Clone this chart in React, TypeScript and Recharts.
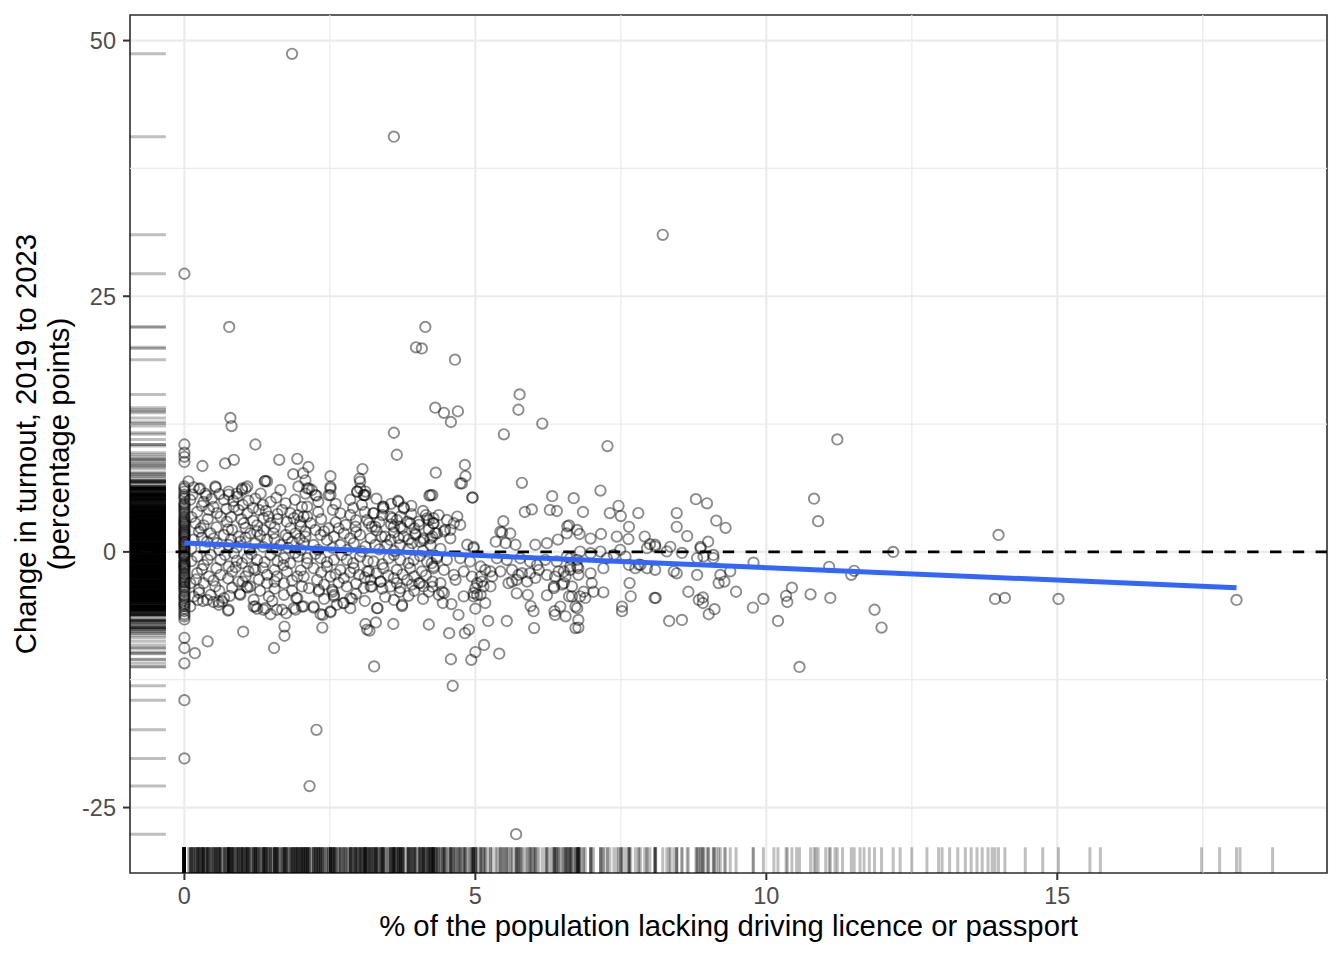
import React from 'react';
import { ScatterChart, Scatter, XAxis, YAxis, CartesianGrid, ReferenceArea, Label } from 'recharts';

// ---------- axes ----------
const X_DOMAIN: [number, number] = [-0.935, 19.635];
const Y_DOMAIN: [number, number] = [-31.4, 52.5];
const xTicks = [0, 5, 10, 15];
const yTicks = [-25, 0, 25, 50];
const xMinor = [2.5, 7.5, 12.5, 17.5];
const yMinor = [-12.5, 12.5, 37.5];

const xTitle = '% of the population lacking driving licence or passport';
const yTitle1 = 'Change in turnout, 2019 to 2023';
const yTitle2 = '(percentage points)';

// ---------- data ----------
// areas with 0% lacking ID (x = 0)
const zeroColumnY = [27.2, 10.5, 9.7, 9.3, 8.8, 6.4, 6.2, 5.9, 5.6, 5.2, 4.8, 4.5, 4.1, 3.9, 3.45, 3.1, 2.8, 2.5, 2.15, 1.9,
  1.66, 1.4, 1.0, 0.8, 0.5, 0.2, -0.29, -0.5, -0.94, -1.2, -1.43, -1.7, -2.08, -2.4, -2.73, -3.0, -3.38, -3.7, -4.2, -4.5,
  -5.0, -5.3, -5.8, -6.1, -6.6, -8.4, -9.4, -10.9, -14.5, -20.2,
  5.4, 4.65, 4.3, 3.7, 3.3, 2.95, 2.65, 2.3, 2.0, 1.75, 1.5, 1.2, 0.95, 0.65, 0.35, 0.05, -0.15, -0.4, -0.7, -1.05, -1.3,
  -1.55, -1.85, -2.2, -2.55, -2.9, -3.2, -3.5, -3.9, -4.35, -4.75, -5.15, -5.55, -6.3];

const outliers: [number, number][] = [
  [1.85, 48.7], [3.6, 40.6], [8.22, 31.0], [0.77, 22.0], [4.14, 22.0], [3.98, 20.0], [4.08, 19.9], [4.65, 18.8],
  [5.76, 15.4], [5.74, 13.9], [4.31, 14.1], [4.46, 13.6], [4.70, 13.75], [4.58, 12.7], [6.15, 12.55], [0.79, 13.1],
  [0.81, 12.3], [3.60, 11.65], [5.49, 11.5], [11.22, 11.0], [7.27, 10.35], [1.22, 10.5], [3.65, 9.5], [2.27, -17.4],
  [2.15, -22.9], [5.7, -27.6], [4.61, -13.1], [3.26, -11.2], [10.57, -11.25], [10.82, 5.2], [10.89, 3.0], [12.18, 0.0],
  [11.86, -5.66], [11.98, -7.4], [13.99, 1.66], [13.93, -4.6], [14.1, -4.5], [15.02, -4.6], [18.08, -4.7], [11.08, -1.46],
  [11.46, -2.24], [11.51, -1.85], [11.1, -4.5], [10.2, -6.75], [10.34, -4.3], [10.36, -4.9], [10.44, -3.5], [10.76, -4.15],
];

const upperLeft: [number, number][] = [
  [0.31, 8.4], [0.70, 8.65], [0.85, 9.0], [1.63, 9.0], [1.94, 9.1], [2.13, 8.3], [1.87, 7.6], [2.04, 7.7], [2.51, 7.4],
  [3.06, 8.1], [3.01, 7.15], [1.38, 6.9], [1.39, 6.95], [0.07, 6.9], [0.16, 6.3], [0.25, 6.15], [0.36, 5.7], [0.54, 6.3],
  [1.05, 6.2], [0.99, 6.05], [0.90, 5.7], [0.76, 5.6], [2.08, 7.0], [2.14, 6.2], [2.19, 6.05], [2.27, 5.5], [2.51, 6.2],
  [2.48, 5.55], [2.97, 5.9], [3.02, 6.2], [3.09, 5.55],
];

const upperMid: [number, number][] = [
  [4.32, 7.75], [4.82, 8.5], [4.83, 7.4], [4.74, 6.7], [4.95, 5.3], [4.21, 5.5], [5.80, 6.75], [6.32, 5.45], [6.69, 5.25],
  [5.85, 3.9], [5.97, 4.15], [6.28, 4.1], [6.40, 4.0], [5.48, 3.0], [5.46, 1.9], [5.60, 1.8], [5.35, 1.0], [5.52, 0.85],
  [5.69, 0.7], [6.03, 0.7], [6.23, 0.85], [6.42, 1.2], [6.58, 2.5], [6.61, 2.6], [3.11, 5.9], [3.11, 5.55], [3.41, 4.4],
  [3.42, 4.25], [3.25, 3.8], [3.67, 5.0], [3.77, 4.35], [3.57, 3.3], [3.71, 3.45], [3.83, 2.95], [3.60, 2.45], [3.74, 2.3],
  [4.03, 2.65], [4.20, 3.1], [4.28, 3.3], [4.37, 3.6], [4.69, 3.45], [4.74, 2.65], [4.63, 2.8], [4.57, 2.15], [4.46, 2.0],
  [3.17, 2.8], [3.28, 2.45], [3.45, 1.5], [3.68, 1.35], [3.97, 1.8], [4.11, 1.15], [4.26, 1.5], [4.86, 0.7], [4.97, 0.5],
];

const lowerLeft: [number, number][] = [
  [0.18, -9.9], [0.40, -8.75], [1.01, -7.8], [1.54, -9.4], [1.72, -7.3], [1.72, -8.2], [2.37, -7.4], [2.34, -6.1],
  [2.38, -6.15], [2.51, -5.9], [3.11, -7.05], [3.14, -7.6], [0.25, -4.0], [0.32, -4.8], [0.23, -4.7], [0.39, -4.7],
  [0.50, -4.9], [0.59, -4.9], [0.65, -4.85], [0.75, -5.75], [0.78, -4.3], [0.95, -4.1], [1.07, -3.4], [1.09, -3.5],
  [1.19, -5.35], [1.25, -5.55], [1.39, -5.5], [1.48, -6.1], [1.51, -4.8], [1.68, -5.65], [1.75, -6.0], [1.91, -5.65],
  [1.92, -4.5], [2.02, -5.35], [2.22, -5.45], [2.31, -3.7], [2.55, -3.9], [2.57, -4.2], [2.73, -5.0], [2.85, -5.5],
  [2.88, -4.6],
];

const lowerMid: [number, number][] = [
  [4.58, -10.5], [4.93, -10.55], [5.0, -9.8], [5.15, -9.1], [5.41, -9.95], [3.32, -5.5], [3.29, -6.9], [3.18, -7.7],
  [3.59, -7.05], [3.74, -5.3], [4.20, -7.1], [4.55, -7.95], [4.82, -7.95], [4.89, -7.6], [4.71, -6.15], [5.0, -5.55],
  [4.44, -5.0], [4.59, -5.1], [5.22, -6.75], [5.54, -6.75], [6.01, -7.45], [5.95, -5.3], [6.0, -5.8], [6.36, -5.8],
  [6.37, -6.15], [6.55, -6.3], [6.46, -5.35], [6.72, -7.45], [6.23, -4.25], [6.61, -4.35], [6.49, -3.2], [6.35, -3.55],
  [5.90, -4.2], [5.71, -4.05], [5.03, -4.2], [5.17, -5.0], [4.97, -4.35], [4.43, -3.9], [4.26, -3.4], [4.05, -3.05],
  [3.91, -3.2], [3.71, -3.55], [3.65, -3.05], [3.37, -2.9], [3.20, -3.4], [3.17, -1.9], [4.80, -4.35], [5.0, -3.55],
  [5.11, -2.9], [5.29, -2.4], [5.63, -2.9], [5.74, -2.25], [6.03, -2.55], [6.23, -2.25], [6.43, -1.9], [6.55, -2.4],
];

const upperRight: [number, number][] = [
  [7.15, 6.0], [6.85, 3.9], [7.46, 4.5], [7.31, 3.8], [7.50, 3.5], [7.80, 3.8], [7.64, 2.45], [7.91, 1.5], [7.16, 1.75],
  [6.98, 1.3], [6.79, 1.75], [7.43, 1.5], [7.63, 1.25], [8.0, 0.75], [8.09, 0.7], [8.35, 0.5], [8.46, 3.8], [8.46, 2.45],
  [8.64, 1.55], [8.79, 5.15], [8.98, 4.75], [9.14, 3.05], [9.30, 2.35], [9.0, 1.0], [8.87, 0.5],
];

const lowerRight: [number, number][] = [
  [9.77, -5.45], [9.95, -4.6], [9.48, -3.9], [9.78, -1.05], [9.01, -6.1], [9.11, -5.6], [8.91, -5.0], [8.84, -4.7],
  [8.91, -4.45], [8.66, -3.9], [8.33, -6.75], [8.55, -6.65], [8.08, -4.5], [8.10, -4.5], [7.65, -3.05], [7.67, -4.35],
  [7.52, -5.35], [7.52, -5.8], [9.18, -3.05], [9.28, -2.9], [9.21, -2.25], [9.38, -1.9], [6.63, -1.75], [6.77, -1.6],
  [6.98, -2.1], [7.0, -3.05], [7.03, -3.9], [6.86, -3.9], [6.72, -5.35], [6.77, -6.65], [6.77, -7.4], [6.89, -4.5],
  [7.20, -3.95], [6.66, -4.35], [6.80, -4.35], [7.95, -1.6], [8.09, -1.75], [7.81, -1.25], [8.41, -1.9], [8.46, -2.1],
  [8.81, -2.25], [8.81, -0.6], [8.92, -0.45], [9.09, -0.3], [9.09, -0.6], [8.29, 0.05], [8.55, -0.1], [8.87, 0.35],
  [6.80, 0.03], [6.98, -0.13], [7.15, 0.03], [7.26, -0.62], [7.38, -0.29], [7.49, 0.2], [7.58, -0.46], [7.64, -1.27],
  [7.75, -1.59], [7.84, -1.27], [7.95, 0.36], [8.09, 0.52], [6.75, -1.43], [7.2, -1.59], [6.63, -0.62],
];

const denseLeft: [number, number][] = [
  [0.27, 6.2], [0.53, 6.4], [0.76, 5.9], [0.99, 6.2], [1.08, 6.4], [1.31, 5.7], [1.42, 6.9], [1.65, 6.05], [1.96, 6.4],
  [2.08, 5.7], [0.10, 5.1], [0.33, 4.9], [0.47, 5.2], [0.68, 5.1], [0.91, 5.4], [1.22, 5.2], [1.48, 4.9], [1.74, 4.75],
  [0.22, 3.9], [0.42, 4.1], [0.56, 3.8], [0.62, 3.45], [0.85, 4.4], [0.93, 4.1], [1.08, 3.8], [1.28, 4.1], [1.45, 3.45],
  [1.68, 4.1], [1.82, 3.8], [2.02, 4.4], [2.11, 3.45], [0.19, 2.8], [0.33, 2.6], [0.73, 2.95], [1.02, 2.8], [1.25, 2.6],
  [1.48, 2.8], [1.76, 2.95], [1.99, 2.95], [0.25, 1.98], [0.45, 1.82], [0.68, 1.66], [0.82, 2.15], [0.93, 1.5],
  [1.13, 1.82], [1.36, 2.15], [1.53, 1.82], [1.74, 1.66], [1.91, 1.82], [2.08, 1.98], [0.16, 1.2], [0.39, 1.0],
  [0.56, 0.85], [0.76, 0.68], [0.96, 1.0], [1.22, 0.85], [1.42, 1.2], [1.65, 0.68], [1.85, 1.0], [2.05, 0.85],
  [0.22, -0.46], [0.45, -0.29], [0.62, -0.78], [0.85, -0.13], [1.08, -0.62], [1.25, -0.78], [1.48, -0.29], [1.71, -0.62],
  [1.96, -0.46], [2.11, -1.1], [0.33, -1.27], [0.76, -1.43], [0.99, -1.1], [1.19, -1.6], [1.82, -1.1], [0.22, -2.08],
  [0.42, -2.4], [0.62, -2.24], [0.82, -1.92], [1.05, -2.4], [1.22, -1.75], [1.42, -2.24], [1.59, -2.4], [1.76, -1.92],
  [1.94, -2.4], [0.10, -3.06], [0.33, -3.06], [0.53, -3.38], [0.93, -2.9], [1.13, -3.38], [1.42, -3.06], [1.71, -3.06],
  [2.02, -3.38], [0.16, -4.36], [0.45, -4.2], [0.68, -4.52], [0.96, -4.2], [1.19, -4.68], [1.45, -4.36], [1.71, -4.2],
  [1.94, -4.52], [0.10, -5.33], [0.59, -5.17], [0.76, -5.66], [1.22, -5.33], [1.36, -5.66], [1.59, -5.66], [1.88, -5.5],
  [2.05, -5.33],
  [0.14, 5.6], [0.38, 5.5], [0.6, 5.65], [0.84, 5.0], [1.1, 5.0], [1.35, 4.6], [1.58, 5.3], [1.9, 5.1],
  [0.3, 4.5], [0.5, 4.4], [0.72, 4.2], [1.0, 4.6], [1.18, 4.3], [1.4, 4.0], [1.6, 3.7], [1.95, 3.6],
  [0.12, 3.4], [0.4, 3.2], [0.8, 3.4], [0.98, 3.2], [1.18, 3.05], [1.36, 3.3], [1.6, 3.2], [1.88, 3.3],
  [0.28, 2.3], [0.55, 2.4], [0.75, 2.2], [1.05, 2.35], [1.25, 2.0], [1.55, 2.4], [1.82, 2.3], [2.0, 2.5],
  [0.3, 1.4], [0.5, 1.3], [0.8, 1.2], [1.05, 1.4], [1.3, 1.6], [1.55, 1.25], [1.78, 1.35], [1.98, 1.3],
  [0.12, 0.3], [0.35, 0.4], [0.6, 0.2], [0.9, 0.45], [1.12, 0.25], [1.35, 0.5], [1.58, 0.2], [1.78, 0.4], [2.0, 0.2],
  [0.12, -0.9], [0.4, -0.75], [0.7, -0.3], [0.9, -0.85], [1.15, -0.2], [1.38, -1.0], [1.6, -0.9], [1.9, -0.1],
  [0.3, -1.7], [0.55, -1.6], [0.88, -1.5], [1.1, -1.9], [1.35, -1.55], [1.55, -1.75], [1.7, -1.3], [2.0, -1.8],
  [0.2, -2.7], [0.5, -2.8], [0.75, -2.6], [1.0, -2.9], [1.28, -2.7], [1.55, -2.9], [1.85, -2.8],
  [0.25, -3.7], [0.6, -3.8], [0.82, -3.5], [1.3, -3.8], [1.55, -3.6], [1.85, -3.8],
];

const denseCentre: [number, number][] = [
  [2.11, 6.21], [2.25, 5.56], [2.51, 6.37], [2.51, 5.56], [2.97, 5.89], [3.08, 5.56], [3.02, 6.86], [3.68, 4.91],
  [3.77, 4.26], [4.23, 5.56], [3.42, 4.42], [3.25, 3.77], [2.11, 4.42], [2.05, 3.45], [2.17, 2.8], [2.68, 3.77],
  [2.85, 3.61], [2.77, 2.63], [2.94, 2.47], [3.14, 3.12], [3.22, 2.47], [3.54, 3.45], [3.65, 3.12], [3.71, 2.47],
  [3.88, 2.8], [4.03, 2.96], [4.17, 3.28], [4.28, 2.8], [2.25, 2.15], [2.48, 2.31], [2.08, 1.5], [2.34, 1.66], [2.57, 1.5],
  [2.74, 1.82], [2.85, 1.33], [3.02, 1.66], [3.2, 1.33], [3.39, 1.5], [3.54, 1.17], [3.77, 1.5], [3.97, 1.66], [4.11, 1.33],
  [4.31, 1.82], [2.22, 0.68], [2.45, 1.17], [2.68, 0.68], [2.91, 0.85], [3.11, 0.52], [3.28, 0.68], [3.48, 0.68],
  [3.71, 0.68], [3.91, 0.85], [4.23, 0.68], [2.11, -0.62], [2.34, -0.62], [2.57, -0.78], [2.79, -0.78], [3.02, -0.46],
  [3.25, -0.94], [3.51, -0.62], [3.71, -0.78], [3.94, -0.78], [4.17, -0.94], [4.34, -0.62], [2.22, -1.6], [2.45, -1.43],
  [2.68, -1.76], [2.91, -1.6], [3.14, -1.92], [3.42, -1.6], [3.65, -1.76], [3.88, -1.6], [4.08, -1.92], [4.28, -1.6],
  [2.05, -2.41], [2.28, -2.73], [2.51, -2.41], [2.74, -2.57], [3.0, -2.24], [3.2, -2.73], [3.37, -2.9], [3.6, -2.57],
  [3.83, -2.73], [4.03, -3.06], [4.26, -2.9], [2.14, -3.55], [2.54, -3.71], [2.79, -3.38], [3.08, -3.55], [3.22, -3.38],
  [3.54, -3.38], [4.11, -3.38], [2.31, -3.87], [2.57, -4.36], [2.74, -5.01], [2.85, -4.52], [2.22, -5.33], [2.51, -5.82],
  [2.62, -5.17], [3.31, -5.5], [3.74, -5.17], [4.37, -4.2],
  [2.3, 4.9], [2.6, 4.7], [2.85, 5.1], [3.05, 4.6], [3.3, 5.2], [3.55, 4.7], [3.9, 4.5], [4.1, 4.0],
  [2.3, 3.9], [2.55, 4.1], [2.9, 4.3], [3.1, 3.9], [3.4, 3.6], [3.9, 3.7], [4.15, 3.6],
  [2.35, 3.2], [2.6, 2.9], [2.95, 3.1], [3.35, 2.9], [3.55, 2.7], [3.95, 2.3], [4.2, 2.2],
  [2.4, 2.0], [2.65, 2.3], [2.95, 1.95], [3.3, 2.1], [3.6, 1.9], [3.85, 1.2], [4.05, 1.0],
  [2.3, 0.2], [2.55, 0.4], [2.8, 0.2], [3.05, 0.05], [3.35, 0.25], [3.6, 0.1], [3.85, 0.3], [4.1, 0.1], [4.4, 0.3],
  [2.25, -0.2], [2.45, -1.0], [2.7, -0.3], [2.9, -1.1], [3.15, -0.9], [3.4, -1.2], [3.6, -0.3], [3.85, -1.1], [4.05, -0.4],
  [4.25, -1.1], [2.35, -2.0], [2.6, -2.2], [2.85, -2.0], [3.1, -2.5], [3.3, -2.1], [3.5, -2.3], [3.75, -2.2], [3.95, -2.4],
  [4.15, -2.3], [2.4, -3.2], [2.65, -3.0], [2.95, -3.1], [3.4, -3.6], [3.7, -3.9], [3.95, -3.8], [4.2, -3.9],
  [2.4, -4.6], [2.95, -4.1], [3.1, -4.8], [3.45, -4.4], [3.6, -4.7], [3.85, -4.3], [4.1, -4.6],
];

const denseRight: [number, number][] = [
  [4.26, 5.56], [4.77, 6.7], [4.95, 5.33], [4.51, 3.12], [4.28, 2.8], [4.48, 2.15], [4.57, 1.33], [4.34, 1.82],
  [4.23, 1.33], [5.43, 1.98], [6.57, 1.82], [6.75, 2.15], [4.97, 0.36], [4.34, -0.46], [4.51, -0.78], [4.74, -0.62],
  [4.91, -0.94], [5.09, -1.43], [5.17, -1.76], [5.37, -0.62], [5.54, -0.78], [5.77, -0.62], [5.94, -0.94], [6.06, -1.27],
  [6.2, -0.78], [6.4, -0.94], [6.57, -0.46], [6.75, -0.78], [4.28, -1.43], [4.46, -1.76], [4.63, -2.24], [4.8, -1.92],
  [4.94, -2.41], [5.09, -2.41], [5.26, -1.92], [5.43, -1.92], [5.63, -1.76], [5.8, -2.08], [5.94, -2.08], [6.09, -1.76],
  [6.37, -2.41], [6.52, -1.92], [6.63, -1.43], [6.77, -2.24], [4.4, -3.06], [4.66, -2.73], [5.03, -3.06], [5.14, -3.38],
  [5.26, -3.38], [5.57, -3.06], [5.71, -2.73], [5.89, -2.9], [6.35, -3.38], [6.52, -3.06], [6.66, -3.38], [4.46, -4.03],
  [4.97, -4.03], [5.09, -4.2], [6.75, -5.5],
];

// rug positions of areas without a turnout figure
const rugOnlyX = [10.13, 10.52, 10.85, 11.02, 11.18, 11.31, 11.61, 11.68, 11.77, 12.3, 12.5, 12.76, 12.96, 13.02, 13.15,
  13.29, 13.42, 13.52, 13.62, 13.71, 13.81, 13.88, 14.45, 14.75, 15.56, 15.74, 17.48, 17.79, 18.14, 18.7];

// linear fit
const trendX = [0, 18.08];
const trendY = [0.88, -3.5];

// ---------- derived ----------
type P = { x: number; y: number };
const points: P[] = [
  ...zeroColumnY.map((y) => ({ x: 0, y })),
  ...[outliers, upperLeft, upperMid, lowerLeft, lowerMid, upperRight, lowerRight, denseLeft, denseCentre, denseRight]
    .flat()
    .map(([x, y]) => ({ x, y })),
];
const xRugData: P[] = [...points.map((p) => p.x), ...rugOnlyX].map((x) => ({ x, y: Y_DOMAIN[0] }));
const yRugData: P[] = points.map((p) => ({ x: X_DOMAIN[0], y: p.y }));
const trendData: P[] = trendX.map((x, i) => ({ x, y: trendY[i] }));
const zeroLine: P[] = [{ x: X_DOMAIN[0], y: 0 }, { x: X_DOMAIN[1], y: 0 }];

const W = 1344;
const H = 960;
const M = { top: 15, right: 17, bottom: 0, left: 0 };
const X_AXIS_H = 87;
const Y_AXIS_W = 130;
const PLOT_W = W - M.left - M.right - Y_AXIS_W;
const PLOT_H = H - M.top - M.bottom - X_AXIS_H;
const RUG_X_LEN = PLOT_H * 0.03;
const RUG_Y_LEN = PLOT_W * 0.03;

const FONT = '"Liberation Sans", Arial, Helvetica, sans-serif';
const GRID = '#EBEBEB';
const RUG_OPACITY = 0.25;
const RUG_W = 3;

const Empty = () => <g />;

const CircleShape = (p: any) => (
  <circle cx={p.cx} cy={p.cy} r={5.2} fill="none" stroke="#000" strokeOpacity={0.45} strokeWidth={1.9} />
);
const XRugShape = (p: any) => (
  <line x1={p.cx} x2={p.cx} y1={p.cy} y2={p.cy - RUG_X_LEN} stroke="#000" strokeOpacity={RUG_OPACITY} strokeWidth={RUG_W} />
);
const YRugShape = (p: any) => (
  <line x1={p.cx} x2={p.cx + RUG_Y_LEN} y1={p.cy} y2={p.cy} stroke="#000" strokeOpacity={RUG_OPACITY} strokeWidth={RUG_W} />
);

const XTitle = (props: any) => {
  const vb = props.viewBox || { x: Y_AXIS_W, y: H - X_AXIS_H, width: PLOT_W, height: X_AXIS_H };
  return (
    <text x={vb.x + vb.width / 2} y={vb.y + 63} textAnchor="middle" fontSize={29.3} fontFamily={FONT} fill="#000">
      {xTitle}
    </text>
  );
};

const YTitle = (props: any) => {
  const vb = props.viewBox || { x: 0, y: M.top, width: Y_AXIS_W, height: PLOT_H };
  const cy = vb.y + vb.height / 2;
  const x1 = vb.x + 36;
  const x2 = vb.x + 69;
  return (
    <g>
      <text x={x1} y={cy} transform={`rotate(-90 ${x1} ${cy})`} textAnchor="middle" fontSize={29.3} fontFamily={FONT} fill="#000">
        {yTitle1}
      </text>
      <text x={x2} y={cy} transform={`rotate(-90 ${x2} ${cy})`} textAnchor="middle" fontSize={29.3} fontFamily={FONT} fill="#000">
        {yTitle2}
      </text>
    </g>
  );
};

export default function App() {
  return (
    <div style={{ position: 'absolute', left: 0, top: 0, width: W, height: H, background: '#fff' }}>
      <ScatterChart width={W} height={H} margin={M}>
        <CartesianGrid stroke={GRID} strokeWidth={2.2} />
        <XAxis
          type="number"
          dataKey="x"
          domain={X_DOMAIN}
          ticks={xTicks}
          allowDataOverflow
          height={X_AXIS_H}
          axisLine={false}
          tickSize={7}
          tickMargin={7}
          tickLine={{ stroke: '#333333', strokeWidth: 2 }}
          tick={{ fill: '#4D4D4D', fontSize: 23.5, fontFamily: FONT }}
        >
          <Label content={<XTitle />} />
        </XAxis>
        <YAxis
          type="number"
          dataKey="y"
          domain={Y_DOMAIN}
          ticks={yTicks}
          allowDataOverflow
          width={Y_AXIS_W}
          axisLine={false}
          tickSize={7}
          tickMargin={7}
          tickLine={{ stroke: '#333333', strokeWidth: 2 }}
          tick={{ fill: '#4D4D4D', fontSize: 23.5, fontFamily: FONT }}
        >
          <Label content={<YTitle />} />
        </YAxis>

        {xMinor.map((v) => (
          <Scatter
            key={`xm${v}`}
            data={[{ x: v, y: Y_DOMAIN[0] }, { x: v, y: Y_DOMAIN[1] }]}
            line={{ stroke: GRID, strokeWidth: 1.2 }}
            shape={Empty}
            isAnimationActive={false}
            legendType="none"
          />
        ))}
        {yMinor.map((v) => (
          <Scatter
            key={`ym${v}`}
            data={[{ x: X_DOMAIN[0], y: v }, { x: X_DOMAIN[1], y: v }]}
            line={{ stroke: GRID, strokeWidth: 1.2 }}
            shape={Empty}
            isAnimationActive={false}
            legendType="none"
          />
        ))}

        <Scatter data={points} shape={CircleShape} isAnimationActive={false} legendType="none" />
        <Scatter data={yRugData} shape={YRugShape} isAnimationActive={false} legendType="none" />
        <Scatter data={xRugData} shape={XRugShape} isAnimationActive={false} legendType="none" />
        <Scatter
          data={zeroLine}
          line={{ stroke: '#000', strokeWidth: 2.6, strokeDasharray: '11.4 11.4' }}
          shape={Empty}
          isAnimationActive={false}
          legendType="none"
        />
        <Scatter
          data={trendData}
          line={{ stroke: '#3366FF', strokeWidth: 5 }}
          shape={Empty}
          isAnimationActive={false}
          legendType="none"
        />
        <ReferenceArea
          x1={X_DOMAIN[0]}
          x2={X_DOMAIN[1]}
          y1={Y_DOMAIN[0]}
          y2={Y_DOMAIN[1]}
          fill="none"
          stroke="#333333"
          strokeWidth={1.6}
          ifOverflow="visible"
        />
      </ScatterChart>
    </div>
  );
}
